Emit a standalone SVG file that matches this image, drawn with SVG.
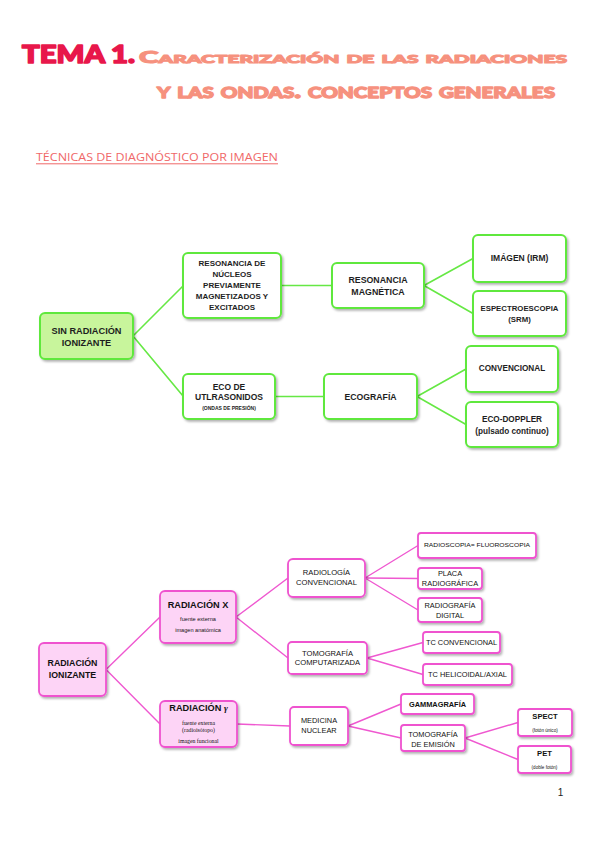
<svg xmlns="http://www.w3.org/2000/svg" width="599" height="848" viewBox="0 0 599 848">
<defs>
<filter id="sh" x="-10%" y="-10%" width="130%" height="140%">
<feDropShadow dx="1.5" dy="1.8" stdDeviation="1" flood-color="#000" flood-opacity="0.3"/>
</filter>
<style>
.t{font-family:"Liberation Sans",Arial,sans-serif;fill:#1e1e1e;text-anchor:middle}
.b{font-weight:bold}
.gn rect{fill:#fff;stroke:#5fe83d;stroke-width:2}
.gn rect.root{fill:#c8f59c}
.pn rect{fill:#fff;stroke:#ef52cf;stroke-width:1.8}
.pn rect.lvl{fill:#fdd4f6}
.pn .t{fill:#111}
.gc{stroke:#66e844;stroke-width:1.6;fill:none}
.pc{stroke:#ef58d0;stroke-width:1.4;fill:none}
.ttl{font-family:Lato,Inter,"Liberation Sans",sans-serif;font-weight:900;stroke-linejoin:round}
.serif{font-family:"Liberation Serif","Times New Roman",serif}
</style>
</defs>
<rect width="599" height="848" fill="#fff"/>

<!-- Title -->
<g id="title">
<text class="ttl" x="22" y="63" font-size="24" fill="#e8174b" stroke="#e8174b" stroke-width="1.6" textLength="113" lengthAdjust="spacingAndGlyphs">TEMA 1.</text>
<text class="ttl" x="139" y="63" font-size="17" fill="#f6917e" stroke="#f6917e" stroke-width="1.1" font-variant="small-caps" textLength="428" lengthAdjust="spacingAndGlyphs">Caracterización de las radiaciones</text>
<text class="ttl" x="157" y="98" font-size="21" fill="#f6917e" stroke="#f6917e" stroke-width="1.3" font-variant="small-caps" textLength="398" lengthAdjust="spacingAndGlyphs">y las ondas. conceptos generales</text>
</g>
<g id="subtitle">
<text x="36" y="161" font-family="'Open Sans','Liberation Sans',Arial,sans-serif" font-size="11.5" fill="#f06868" textLength="242" lengthAdjust="spacingAndGlyphs">TÉCNICAS DE DIAGNÓSTICO POR IMAGEN</text>
<line x1="36" y1="163.8" x2="278" y2="163.8" stroke="#f06868" stroke-width="1"/>
</g>

<!-- Connectors -->
<g id="connectors">
<path class="gc" d="M133,336 L183,286 M133,336 L183,396 M281,285.5 L332,285.5 M275,396.5 L324,396.5 M424,285.5 L473,258.5 M424,285.5 L473,313.5 M417,396.5 L466,369 M417,396.5 L466,424.5"/>
<path class="pc" d="M106,669.5 L160,617 M106,669.5 L160,724 M236,617 L288,578 M236,617 L288,658 M237,724 L290,726 M365,578 L418,545.5 M365,578 L418,578.5 M365,578 L418,610 M367,658 L423,642.5 M367,658 L423,674.5 M348,726 L401,704 M348,726 L401,738 M465,738 L518,722.5 M465,738 L518,759.5"/>
</g>

<!-- Green nodes -->
<g class="gn">
<g id="sin-radiacion">
<rect class="root" x="40" y="313" width="93" height="46" rx="5" filter="url(#sh)"/>
<text class="t b" font-size="9.2" x="86.5" y="333.5">SIN RADIACIÓN</text>
<text class="t b" font-size="9.2" x="86.5" y="345.5">IONIZANTE</text>
</g>
<g id="resonancia-nucleos">
<rect x="183" y="253" width="98" height="65" rx="5" filter="url(#sh)"/>
<text class="t b" font-size="8" x="232" y="266.3">RESONANCIA DE</text>
<text class="t b" font-size="8" x="232" y="277.3">NÚCLEOS</text>
<text class="t b" font-size="8" x="232" y="288.3">PREVIAMENTE</text>
<text class="t b" font-size="8" x="232" y="299.3">MAGNETIZADOS Y</text>
<text class="t b" font-size="8" x="232" y="310.3">EXCITADOS</text>
</g>
<g id="eco-ultrasonidos">
<rect x="183" y="374" width="92" height="45" rx="5" filter="url(#sh)"/>
<text class="t b" font-size="8.5" x="229" y="390">ECO DE</text>
<text class="t b" font-size="8.5" x="229" y="400">UTLRASONIDOS</text>
<text class="t b" font-size="5" x="229" y="410">(ONDAS DE PRESIÓN)</text>
</g>
<g id="resonancia-magnetica">
<rect x="332" y="263" width="92" height="45" rx="5" filter="url(#sh)"/>
<text class="t b" font-size="8.8" x="378" y="283">RESONANCIA</text>
<text class="t b" font-size="8.8" x="378" y="295">MAGNÉTICA</text>
</g>
<g id="imagen-irm">
<rect x="473" y="235" width="93" height="47" rx="5" filter="url(#sh)"/>
<text class="t b" font-size="8.5" x="519.5" y="261">IMÁGEN (IRM)</text>
</g>
<g id="espectroescopia">
<rect x="473" y="291" width="93" height="45" rx="5" filter="url(#sh)"/>
<text class="t b" font-size="7.8" x="519.5" y="311">ESPECTROESCOPIA</text>
<text class="t b" font-size="7.8" x="519.5" y="322">(SRM)</text>
</g>
<g id="ecografia">
<rect x="324" y="374" width="93" height="45" rx="5" filter="url(#sh)"/>
<text class="t b" font-size="8.7" x="370.5" y="400">ECOGRAFÍA</text>
</g>
<g id="convencional">
<rect x="466" y="346" width="92" height="46" rx="5" filter="url(#sh)"/>
<text class="t b" font-size="8.2" x="512" y="371">CONVENCIONAL</text>
</g>
<g id="eco-doppler">
<rect x="466" y="402" width="92" height="45" rx="5" filter="url(#sh)"/>
<text class="t b" font-size="8.2" x="512" y="422">ECO-DOPPLER</text>
<text class="t b" font-size="8.2" x="512" y="434">(pulsado continuo)</text>
</g>
</g>

<!-- Pink nodes -->
<g class="pn">
<g id="radiacion-ionizante">
<rect class="lvl" x="39" y="643" width="67" height="53" rx="5" filter="url(#sh)"/>
<text class="t b" font-size="8.8" x="72.5" y="666">RADIACIÓN</text>
<text class="t b" font-size="8.8" x="72.5" y="678">IONIZANTE</text>
</g>
<g id="radiacion-x">
<rect class="lvl" x="160" y="591" width="76" height="52" rx="5" filter="url(#sh)"/>
<text class="t b" font-size="9.2" x="198" y="608.3">RADIACIÓN X</text>
<text class="t" font-size="5.6" x="198" y="621">fuente externa</text>
<text class="t" font-size="5.6" x="198" y="632">imagen anatómica</text>
</g>
<g id="radiacion-gamma">
<rect class="lvl" x="160" y="701" width="77" height="46" rx="5" filter="url(#sh)"/>
<text class="t b" font-size="9.2" x="198.5" y="711.3">RADIACIÓN <tspan class="serif" font-style="italic">γ</tspan></text>
<text class="t serif" font-size="5.8" x="198.5" y="724.5">fuente externa</text>
<text class="t serif" font-size="5.8" x="198.5" y="732">(radioisótopo)</text>
<text class="t serif" font-size="5.8" x="198.5" y="742.5">imagen funcional</text>
</g>
<g id="radiologia-convencional">
<rect x="288" y="559" width="77" height="38" rx="5" filter="url(#sh)"/>
<text class="t" font-size="7.6" x="326.5" y="574.7">RADIOLOGÍA</text>
<text class="t" font-size="7.6" x="326.5" y="584.7">CONVENCIONAL</text>
</g>
<g id="radioscopia">
<rect x="418" y="533" width="118" height="25" rx="3" filter="url(#sh)"/>
<text class="t" font-size="6.2" x="477" y="547.3" textLength="106" lengthAdjust="spacingAndGlyphs">RADIOSCOPIA= FLUOROSCOPIA</text>
</g>
<g id="placa-radiografica">
<rect x="418" y="568" width="64" height="21" rx="3" filter="url(#sh)"/>
<text class="t" font-size="7.4" x="450" y="575.6">PLACA</text>
<text class="t" font-size="7.4" x="450" y="585.6">RADIOGRÁFICA</text>
</g>
<g id="radiografia-digital">
<rect x="418" y="598" width="64" height="24" rx="3" filter="url(#sh)"/>
<text class="t" font-size="7.4" x="450" y="607.6">RADIOGRAFÍA</text>
<text class="t" font-size="7.4" x="450" y="617.6">DIGITAL</text>
</g>
<g id="tomografia-computarizada">
<rect x="288" y="642" width="79" height="32" rx="4" filter="url(#sh)"/>
<text class="t" font-size="7.6" x="327.5" y="655.7">TOMOGRAFÍA</text>
<text class="t" font-size="7.6" x="327.5" y="664.7">COMPUTARIZADA</text>
</g>
<g id="tc-convencional">
<rect x="423" y="632" width="77" height="21" rx="3" filter="url(#sh)"/>
<text class="t" font-size="7.4" x="461.5" y="644.6">TC CONVENCIONAL</text>
</g>
<g id="tc-helicoidal">
<rect x="423" y="664" width="89" height="21" rx="3" filter="url(#sh)"/>
<text class="t" font-size="7.4" x="467.5" y="676.6">TC HELICOIDAL/AXIAL</text>
</g>
<g id="medicina-nuclear">
<rect x="290" y="707" width="58" height="38" rx="4" filter="url(#sh)"/>
<text class="t" font-size="7.4" x="319" y="722.6">MEDICINA</text>
<text class="t" font-size="7.4" x="319" y="732.6">NUCLEAR</text>
</g>
<g id="gammagrafia">
<rect x="401" y="694" width="73" height="20" rx="3" filter="url(#sh)"/>
<text class="t b" font-size="7.4" x="437.5" y="706.6">GAMMAGRAFÍA</text>
</g>
<g id="tomografia-emision">
<rect x="401" y="725" width="64" height="26" rx="3" filter="url(#sh)"/>
<text class="t" font-size="7.4" x="433" y="736.6">TOMOGRAFÍA</text>
<text class="t" font-size="7.4" x="433" y="746.6">DE EMISIÓN</text>
</g>
<g id="spect">
<rect x="518" y="709" width="54" height="27" rx="3" filter="url(#sh)"/>
<text class="t b" font-size="7.6" x="545" y="718.7">SPECT</text>
<text class="t" font-size="4.6" x="545" y="731.6">(fotón único)</text>
</g>
<g id="pet">
<rect x="518" y="746" width="53" height="27" rx="3" filter="url(#sh)"/>
<text class="t b" font-size="7.6" x="544.5" y="755.7">PET</text>
<text class="t" font-size="4.6" x="544.5" y="768.6">(doble fotón)</text>
</g>
</g>

<text id="page-number" x="560.5" y="796" font-family="'Liberation Sans',Arial,sans-serif" font-size="10" fill="#222" text-anchor="middle">1</text>
</svg>
